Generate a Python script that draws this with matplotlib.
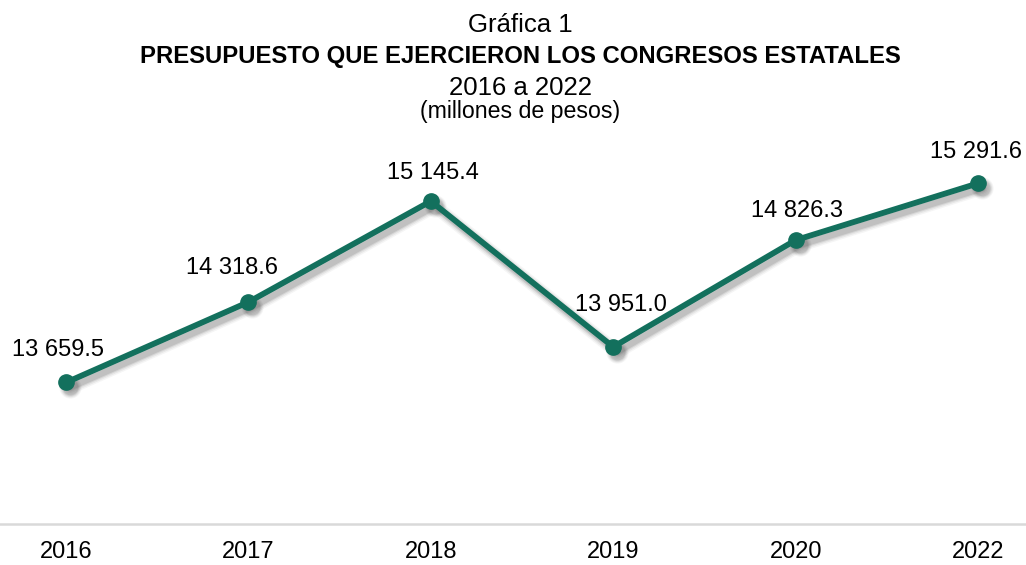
import matplotlib
matplotlib.use("Agg")
import matplotlib.pyplot as plt
import matplotlib.transforms as mtransforms

plt.rcParams['font.family'] = ['Liberation Sans', 'DejaVu Sans']

years = ['2016', '2017', '2018', '2019', '2020', '2022']
budget = [13659.5, 14318.6, 15145.4, 13951.0, 14826.3, 15291.6]
value_labels = ['13 659.5', '14 318.6', '15 145.4', '13 951.0', '14 826.3', '15 291.6']

# label offsets in pixels (dx, dy), as placed in the original
label_offsets = [(-8, 26), (-16, 28), (2, 22), (8, 36), (1, 23), (-2, 25)]

green = '#13705D'

fig = plt.figure(figsize=(10.26, 5.65), dpi=100)
ax = fig.add_axes([0.0, 0.0726, 1.0, 0.7127])

x = list(range(len(years)))

# soft drop shadow: a few offset grey strokes of growing width
for lw, ms, a in [(10, 16, 0.05), (8, 14.5, 0.08), (6, 13, 0.11), (4.5, 11.5, 0.14)]:
    tr = mtransforms.offset_copy(ax.transData, fig=fig, x=4, y=-5, units='dots')
    ax.plot(x, budget, color='#444444', alpha=a, linewidth=lw, marker='o',
            markersize=ms, markeredgewidth=0, transform=tr, zorder=2,
            solid_capstyle='round', solid_joinstyle='round')

ax.plot(x, budget, color=green, linewidth=4.2, marker='o', markersize=11,
        solid_capstyle='round', solid_joinstyle='round', zorder=3)

for xi, v, lab, off in zip(x, budget, value_labels, label_offsets):
    ax.annotate(lab, (xi, v), xytext=off, textcoords='offset pixels',
                ha='center', va='baseline', fontsize=17, color='#000000')

ax.set_xlim(-0.362, 5.263)
ax.set_ylim(12500, 15800)
ax.set_xticks(x)
ax.set_xticklabels(years, fontsize=17)
ax.tick_params(axis='x', length=0, pad=12)
ax.set_yticks([])
for side in ['top', 'left', 'right']:
    ax.spines[side].set_visible(False)
ax.spines['bottom'].set_color('#D9D9D9')
ax.spines['bottom'].set_linewidth(1.8)

cx = 0.507
fig.text(cx, 1 - 32 / 565, 'Gráfica 1', ha='center', va='baseline', fontsize=18.5)
fig.text(cx, 1 - 63 / 565, 'PRESUPUESTO QUE EJERCIERON LOS CONGRESOS ESTATALES',
         ha='center', va='baseline', fontsize=17.2, fontweight='bold')
fig.text(cx, 1 - 95 / 565, '2016 a 2022', ha='center', va='baseline', fontsize=18.5)
fig.text(cx, 1 - 118 / 565, '(millones de pesos)', ha='center', va='baseline', fontsize=16.7)

fig.savefig('out.png', dpi=100)
